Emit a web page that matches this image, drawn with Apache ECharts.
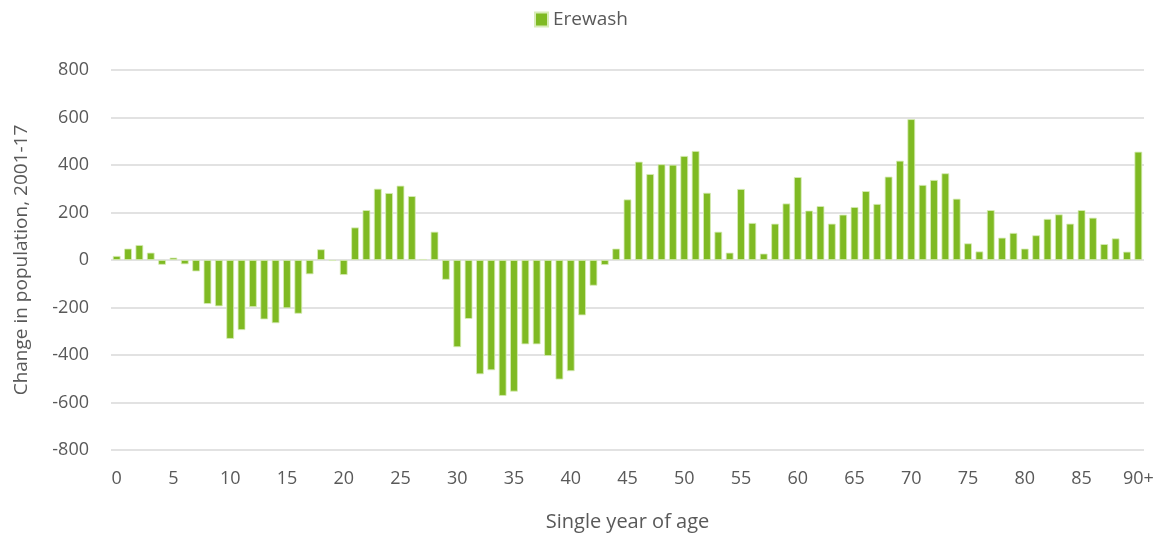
<!DOCTYPE html>
<html>
<head>
<meta charset="utf-8">
<script src="https://cdn.jsdelivr.net/npm/echarts@6/dist/echarts.min.js"></script>
<style>
  html, body { margin: 0; padding: 0; background: #fff; }
  #chart { width: 1162px; height: 538px; }
</style>
</head>
<body>
<div id="chart"></div>
<script>
// single year of age, 0 .. 90+
var ages = []
for (var i = 0; i < 90; i++) ages.push(String(i))
ages.push('90+')

// change in population 2001-17
var erewash = [
  17, 48, 63, 31, -20, 10, -18, -48, -185, -195,
  -332, -295, -198, -250, -266, -203, -226, -60, 45, -4,
  -63, 137, 210, 300, 282, 313, 269, 4, 119, -83,
  -367, -248, -481, -464, -572, -554, -355, -355, -404, -503,
  -468, -233, -108, -21, 48, 255, 414, 362, 403, 401,
  438, 459, 283, 119, 31, 299, 156, 27, 153, 238,
  349, 208, 227, 153, 191, 223, 290, 236, 351, 418,
  593, 316, 337, 365, 258, 70, 36, 210, 94, 114,
  48, 104, 173, 192, 153, 210, 178, 67, 91, 35,
  456
]

var textColor = '#595959'
var font = 'Open Sans'

var chart = echarts.init(document.getElementById('chart'))
var option = {
  animation: false,
  textStyle: { fontFamily: font },
  legend: {
    top: 5,
    left: 'center',
    icon: 'rect',
    itemWidth: 13,
    itemHeight: 14,
    itemGap: 6,
    textStyle: { color: textColor, fontSize: 19, fontFamily: font },
    data: ['Erewash']
  },
  grid: { left: 111, right: 18, top: 70, bottom: 88 },
  xAxis: {
    type: 'category',
    data: ages,
    name: 'Single year of age',
    nameLocation: 'middle',
    nameGap: 62,
    nameTextStyle: { color: textColor, fontSize: 20, fontFamily: font },
    axisLine: { show: false, onZero: false },
    axisTick: { show: false },
    axisLabel: {
      interval: 4,
      color: textColor,
      fontSize: 18,
      margin: 20,
      fontFamily: font
    }
  },
  yAxis: {
    type: 'value',
    min: -800,
    max: 800,
    interval: 200,
    name: 'Change in population, 2001-17',
    nameLocation: 'middle',
    nameGap: 80,
    nameTextStyle: { color: textColor, fontSize: 19, fontFamily: font },
    axisLine: { show: false },
    axisTick: { show: false },
    axisLabel: { color: textColor, fontSize: 18, margin: 22, fontFamily: font },
    splitLine: { lineStyle: { color: '#d9d9d9', width: 1.5 } }
  },
  series: [
    {
      name: 'Erewash',
      type: 'bar',
      data: erewash,
      barCategoryGap: '32%',
      itemStyle: {
        color: '#7fba23',
        borderColor: '#d8ecb8',
        borderWidth: 0.8
      }
    }
  ]
}
chart.setOption(option)
</script>
</body>
</html>
